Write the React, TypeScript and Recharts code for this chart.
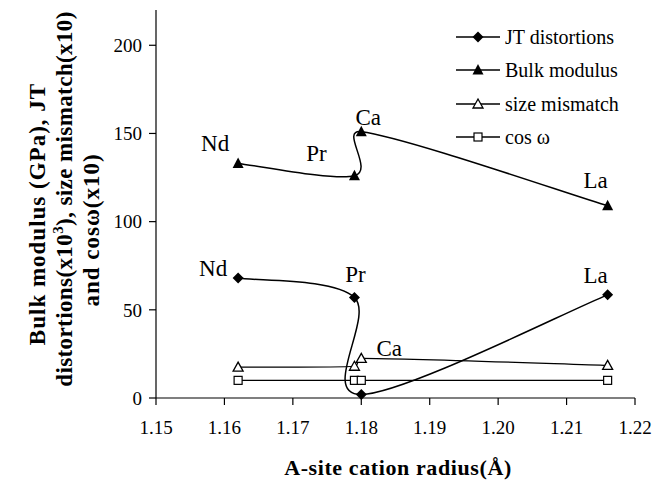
import React from 'react';
import { LineChart, Line, XAxis, YAxis, Legend, LabelList } from 'recharts';

// A-site cation radius (Å) and the site each point belongs to
const radius = [1.162, 1.179, 1.18, 1.216];
const sites = ['Nd', 'Pr', 'Ca', 'La'];

// series values, all on the shared left axis
const jtDistortions = [68, 57, 2, 58.5];
const bulkModulus = [133, 126, 151, 109];
const sizeMismatch = [17.5, 18, 22.5, 18.5];
const cosOmega = [10, 10, 10, 10];

const xTicks = [1.15, 1.16, 1.17, 1.18, 1.19, 1.2, 1.21, 1.22];
const yTicks = [0, 50, 100, 150, 200];

const data = radius.map((r, i) => ({
  r,
  site: sites[i],
  jt: jtDistortions[i],
  bulk: bulkModulus[i],
  size: sizeMismatch[i],
  cos: cosOmega[i],
}));

const SERIF = '"Liberation Serif", "Times New Roman", serif';
const INK = '#000';

// Excel-style smoothed line: Bezier segments with Catmull-Rom tangents,
// each tangent capped at half the length of the segment it belongs to
const smoothCurve = (ctx: any) => {
  let pts: number[][] = [];
  const handle = (from: number[], to: number[], seg: number) => {
    let vx = (to[0] - from[0]) / 6;
    let vy = (to[1] - from[1]) / 6;
    const len = Math.hypot(vx, vy);
    const cap = seg / 2;
    if (len > cap && len > 0) {
      vx *= cap / len;
      vy *= cap / len;
    }
    return [vx, vy];
  };
  return {
    areaStart() {},
    areaEnd() {},
    lineStart() {
      pts = [];
    },
    point(x: number, y: number) {
      pts.push([+x, +y]);
    },
    lineEnd() {
      const n = pts.length;
      if (!n) return;
      ctx.moveTo(pts[0][0], pts[0][1]);
      for (let i = 0; i < n - 1; i++) {
        const p0 = pts[Math.max(i - 1, 0)];
        const p1 = pts[i];
        const p2 = pts[i + 1];
        const p3 = pts[Math.min(i + 2, n - 1)];
        const seg = Math.hypot(p2[0] - p1[0], p2[1] - p1[1]);
        const a = handle(p0, p2, seg);
        const b = handle(p1, p3, seg);
        ctx.bezierCurveTo(p1[0] + a[0], p1[1] + a[1], p2[0] - b[0], p2[1] - b[1], p2[0], p2[1]);
      }
    },
  };
};

// point markers
const Diamond = ({ cx, cy }: { cx: number; cy: number }) => (
  <polygon points={`${cx},${cy - 5.5} ${cx + 5.5},${cy} ${cx},${cy + 5.5} ${cx - 5.5},${cy}`} fill={INK} />
);
const Triangle = ({ cx, cy }: { cx: number; cy: number }) => (
  <polygon points={`${cx},${cy - 6} ${cx + 5.5},${cy + 4.5} ${cx - 5.5},${cy + 4.5}`} fill={INK} />
);
const OpenTriangle = ({ cx, cy }: { cx: number; cy: number }) => (
  <polygon
    points={`${cx},${cy - 5} ${cx + 5},${cy + 4} ${cx - 5},${cy + 4}`}
    fill="#fff"
    stroke={INK}
    strokeWidth={1.3}
  />
);
const OpenSquare = ({ cx, cy }: { cx: number; cy: number }) => (
  <rect x={cx - 4} y={cy - 4} width={8} height={8} fill="#fff" stroke={INK} strokeWidth={1.2} />
);

const dotOf = (Mark: any) => (p: any) => <Mark key={`${p.dataKey}-${p.index}`} cx={p.cx} cy={p.cy} />;

// site name labels, offset from their point
const siteLabel = (offsets: Record<string, number[]>) => (props: any) => {
  const vb = props.viewBox || {};
  const px = props.x ?? vb.x;
  const py = props.y ?? vb.y;
  const off = offsets[props.value];
  if (!off || px == null) return null;
  return (
    <text
      key={props.value}
      x={px + off[0]}
      y={py + off[1]}
      textAnchor="middle"
      fontFamily={SERIF}
      fontSize={23}
      fill={INK}
    >
      {props.value}
    </text>
  );
};

const legendItems = [
  { name: 'JT distortions', Mark: Diamond },
  { name: 'Bulk modulus', Mark: Triangle },
  { name: 'size mismatch', Mark: OpenTriangle },
  { name: 'cos \u03c9', Mark: OpenSquare },
];

const LegendBox = () => (
  <div style={{ fontFamily: SERIF, fontSize: 20, color: INK, lineHeight: 1 }}>
    {legendItems.map(({ name, Mark }) => (
      <div key={name} style={{ display: 'flex', alignItems: 'center', height: 33.5 }}>
        <svg width={44} height={14} style={{ display: 'block' }}>
          <line x1={0} x2={44} y1={7} y2={7} stroke={INK} strokeWidth={1.3} />
          <Mark cx={22} cy={7} />
        </svg>
        <span style={{ marginLeft: 5, whiteSpace: 'nowrap' }}>{name}</span>
      </div>
    ))}
  </div>
);

const YTitle = () => {
  const common = {
    transform: 'rotate(-90)',
    textAnchor: 'middle' as const,
    fontFamily: SERIF,
    fontWeight: 700,
    fontSize: 23,
    letterSpacing: 1,
    fill: INK,
  };
  return (
    <g>
      <text {...common} x={-214} y={45}>
        Bulk modulus (GPa), JT
      </text>
      <text {...common} letterSpacing={0.4} x={-199} y={72}>
        distortions(x10
        <tspan fontSize={15} dy={-9}>
          3
        </tspan>
        <tspan dy={9}>), size mismatch(x10)</tspan>
      </text>
      <text {...common} x={-230} y={99}>
        and cos{'\u03c9'}(x10)
      </text>
    </g>
  );
};

const XTitle = () => (
  <text
    x={398}
    y={475}
    textAnchor="middle"
    fontFamily={SERIF}
    fontWeight={700}
    fontSize={22}
    letterSpacing={0.6}
    fill={INK}
  >
    A-site cation radius({'\u00c5'})
  </text>
);

const tickStyle = { fontFamily: SERIF, fontSize: 19, fill: INK };

export default function App() {
  return (
    <div style={{ position: 'absolute', left: 0, top: 0, background: '#fff' }}>
      <LineChart width={671} height={481} data={data} margin={{ top: 10, right: 36, bottom: 0, left: 0 }}>
        <XAxis
          dataKey="r"
          type="number"
          domain={[1.15, 1.22]}
          ticks={xTicks}
          tickFormatter={(v: number) => v.toFixed(2)}
          height={83}
          tick={tickStyle}
          tickSize={7}
          tickMargin={16}
          axisLine={{ stroke: INK, strokeWidth: 1.2 }}
          tickLine={{ stroke: INK, strokeWidth: 1.2 }}
          label={{ content: () => <XTitle /> }}
        />
        <XAxis
          xAxisId="top"
          orientation="top"
          type="number"
          domain={[0, 1]}
          height={0}
          tick={false}
          tickLine={false}
          axisLine={{ stroke: INK, strokeWidth: 1.2 }}
        />
        <YAxis
          type="number"
          domain={[0, 220]}
          ticks={yTicks}
          width={156}
          tick={tickStyle}
          tickSize={7}
          tickMargin={7}
          axisLine={{ stroke: INK, strokeWidth: 1.2 }}
          tickLine={{ stroke: INK, strokeWidth: 1.2 }}
          label={{ content: () => <YTitle /> }}
        />
        <YAxis
          yAxisId="right"
          orientation="right"
          type="number"
          domain={[0, 1]}
          width={0}
          tick={false}
          tickLine={false}
          axisLine={{ stroke: INK, strokeWidth: 1.2 }}
        />
        <Legend
          layout="vertical"
          align="center"
          verticalAlign="middle"
          content={() => <LegendBox />}
          wrapperStyle={{ left: 456, top: 20, width: 200 }}
        />
        <Line
          dataKey="cos"
          type={smoothCurve as any}
          stroke={INK}
          strokeWidth={1.2}
          dot={dotOf(OpenSquare)}
          activeDot={false}
          isAnimationActive={false}
        />
        <Line
          dataKey="size"
          type={smoothCurve as any}
          stroke={INK}
          strokeWidth={1.2}
          dot={dotOf(OpenTriangle)}
          activeDot={false}
          isAnimationActive={false}
        >
          <LabelList dataKey="site" content={siteLabel({ Ca: [28, -2] })} />
        </Line>
        <Line
          dataKey="jt"
          type={smoothCurve as any}
          stroke={INK}
          strokeWidth={1.5}
          dot={dotOf(Diamond)}
          activeDot={false}
          isAnimationActive={false}
        >
          <LabelList
            dataKey="site"
            content={siteLabel({ Nd: [-25, -2], Pr: [1, -15], La: [-12, -12] })}
          />
        </Line>
        <Line
          dataKey="bulk"
          type={smoothCurve as any}
          stroke={INK}
          strokeWidth={1.5}
          dot={dotOf(Triangle)}
          activeDot={false}
          isAnimationActive={false}
        >
          <LabelList
            dataKey="site"
            content={siteLabel({ Nd: [-23, -12], Pr: [-38, -15], Ca: [7, -7], La: [-12, -18] })}
          />
        </Line>
      </LineChart>
    </div>
  );
}
